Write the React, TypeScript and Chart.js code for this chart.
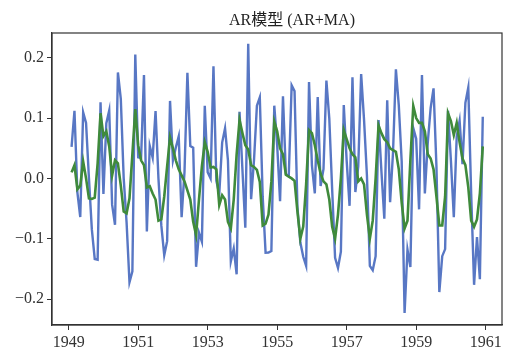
import { useEffect, useRef } from "react";
import { Chart, registerables } from "chart.js";

Chart.register(...registerables);

const TITLE = "AR模型 (AR+MA)";

// Monthly series, first value is February 1949, last is December 1960.
const START_YEAR = 1949;
const START_MONTH = 1; // 0 = January

// First difference of log passenger counts.
const LOG_DIFF = [
  0.0522, 0.1121, -0.023, -0.064, 0.1095, 0.0919, 0.0, -0.0846, -0.1335, -0.1347, 0.1263,
  -0.0258, 0.0914, 0.1125, -0.0435, -0.077, 0.1756, 0.1319, 0.0, -0.0732, -0.1722, -0.1542, 0.2054,
  0.0351, 0.0339, 0.1712, -0.088, 0.0537, 0.0343, 0.1115, 0.0, -0.0784, -0.1273, -0.104, 0.1284,
  0.0297, 0.0513, 0.0697, -0.0642, 0.011, 0.175, 0.0536, 0.0509, -0.1466, -0.0901, -0.1048, 0.1204,
  0.0103, 0.0, 0.1857, -0.0042, -0.0259, 0.0593, 0.0829, 0.0299, -0.1377, -0.1162, -0.1589, 0.1103,
  0.0148, -0.0817, 0.2231, -0.0346, 0.0304, 0.1206, 0.1345, -0.0303, -0.1233, -0.1231, -0.1205, 0.1205,
  0.0552, -0.0379, 0.1362, 0.0075, 0.0037, 0.1542, 0.1446, -0.0478, -0.1063, -0.1299, -0.1451, 0.1596,
  0.0214, -0.025, 0.1349, -0.0127, 0.0158, 0.1622, 0.0992, -0.0196, -0.1318, -0.1485, -0.1215, 0.1215,
  0.029, -0.0455, 0.1678, -0.0227, 0.0199, 0.1729, 0.097, 0.0043, -0.1449, -0.1521, -0.129, 0.0968,
  0.0118, -0.0669, 0.1296, -0.0394, 0.0422, 0.1809, 0.1211, 0.0281, -0.2231, -0.1181, -0.1468, 0.0835,
  0.066, -0.0513, 0.1715, -0.0249, 0.0588, 0.1167, 0.1493, 0.0199, -0.1884, -0.1289, -0.1172, 0.1122,
  0.0292, -0.0644, 0.0692, 0.0955, 0.0236, 0.1253, 0.1507, -0.0261, -0.1764, -0.0971, -0.1672, 0.1023,
];

// Fitted values of the AR+MA model.
const FITTED = [
  0.01, 0.022, -0.018, -0.012, 0.028, 0.0, -0.033, -0.034, -0.032, 0.025, 0.108,
  0.07, 0.078, 0.053, 0.005, 0.03, 0.025, -0.012, -0.055, -0.058, -0.033, 0.04, 0.115,
  0.055, 0.03, 0.022, -0.015, -0.013, -0.025, -0.035, -0.07, -0.068, -0.03, 0.02, 0.068,
  0.05, 0.03, 0.015, 0.005, -0.005, -0.02, -0.035, -0.072, -0.094, -0.035, 0.02, 0.06,
  0.044, 0.018, 0.019, 0.015, -0.044, -0.028, -0.035, -0.072, -0.083, -0.035, 0.04, 0.097,
  0.075, 0.055, 0.048, 0.022, 0.019, 0.014, -0.006, -0.078, -0.075, -0.06, -0.005, 0.094,
  0.078, 0.05, 0.04, 0.006, 0.003, 0.0, -0.004, -0.055, -0.1, -0.08, -0.01, 0.08,
  0.075, 0.055, 0.03, 0.008, -0.005, -0.01, -0.035, -0.08, -0.1, -0.06, 0.0, 0.08,
  0.065, 0.05, 0.04, 0.035, -0.005, 0.0, -0.01, -0.06, -0.1, -0.07, 0.0, 0.088,
  0.075, 0.065, 0.06, 0.05, 0.047, 0.044, 0.015, -0.04, -0.083, -0.07, 0.03, 0.12,
  0.1, 0.092, 0.092, 0.078, 0.04, 0.033, 0.015, -0.03, -0.078, -0.078, -0.03, 0.108,
  0.095, 0.072, 0.092, 0.06, 0.033, 0.022, -0.015, -0.07, -0.08, -0.068, -0.025, 0.053,
];

const X_TICKS = [1949, 1951, 1953, 1955, 1957, 1959, 1961];
const Y_TICKS = [-0.2, -0.1, 0.0, 0.1, 0.2];
const X_MIN = 1948.52;
const X_MAX = 1961.47;
const Y_MIN = -0.243;
const Y_MAX = 0.241;

const BLUE = "#5877c4";
const GREEN = "#3f8a3b";
const INK = "#333333";
const FONT_FAMILY = '"Liberation Serif", "DejaVu Serif", serif';

function toPoints(values: number[]) {
  return values.map((v, k) => ({ x: START_YEAR + (START_MONTH + k) / 12, y: v }));
}

function formatY(v: number) {
  const s = Math.abs(v).toFixed(1);
  return v < -1e-9 ? "\u2212" + s : s;
}

// Closed box around the plot area plus the title above it.
const framePlugin = {
  id: "frameAndTitle",
  afterDatasetsDraw(chart: any) {
    const { ctx, chartArea: a } = chart;
    ctx.save();
    ctx.strokeStyle = INK;
    ctx.lineWidth = 1.2;
    ctx.strokeRect(a.left, a.top, a.right - a.left, a.bottom - a.top);
    ctx.fillStyle = "#222";
    ctx.font = `16px ${FONT_FAMILY}, "Noto Sans CJK SC"`;
    ctx.textAlign = "center";
    ctx.textBaseline = "middle";
    ctx.fillText(TITLE, (a.left + a.right) / 2 + 15, a.top - 12);
    ctx.restore();
  },
};

export default function App() {
  const canvasRef = useRef<HTMLCanvasElement | null>(null);

  useEffect(() => {
    const canvas = canvasRef.current;
    if (!canvas) return;
    const tickFont = { family: FONT_FAMILY, size: 16 };
    const chart = new Chart(canvas, {
      type: "line",
      data: {
        datasets: [
          {
            label: "fitted",
            data: toPoints(FITTED),
            borderColor: GREEN,
            borderWidth: 2.6,
            pointRadius: 0,
            tension: 0,
            fill: false,
          },
          {
            label: "log diff",
            data: toPoints(LOG_DIFF),
            borderColor: BLUE,
            borderWidth: 2.4,
            pointRadius: 0,
            tension: 0,
            fill: false,
          },
        ],
      },
      options: {
        animation: false,
        responsive: false,
        maintainAspectRatio: false,
        layout: { padding: { top: 33, right: 7, left: 0, bottom: 0 } },
        plugins: {
          legend: { display: false },
          title: { display: false },
          tooltip: { enabled: false },
        },
        scales: {
          x: {
            type: "linear",
            min: X_MIN,
            max: X_MAX,
            afterBuildTicks: (s: any) => {
              s.ticks = X_TICKS.map((v) => ({ value: v }));
            },
            afterFit: (s: any) => {
              s.height = 26;
            },
            ticks: {
              callback: (v: any) => String(v),
              color: INK,
              font: tickFont,
              padding: 3,
              maxRotation: 0,
              autoSkip: false,
            },
            grid: {
              drawOnChartArea: false,
              drawTicks: true,
              tickLength: 5,
              tickColor: INK,
              color: INK,
            },
            border: { display: true, color: INK, width: 1.2 },
          },
          y: {
            type: "linear",
            min: Y_MIN,
            max: Y_MAX,
            afterBuildTicks: (s: any) => {
              s.ticks = Y_TICKS.map((v) => ({ value: v }));
            },
            afterFit: (s: any) => {
              s.width = 52;
            },
            ticks: {
              callback: (v: any) => formatY(Number(v)),
              color: INK,
              font: tickFont,
              padding: 3,
              autoSkip: false,
            },
            grid: {
              drawOnChartArea: false,
              drawTicks: true,
              tickLength: 5,
              tickColor: INK,
              color: INK,
            },
            border: { display: true, color: INK, width: 1.2 },
          },
        },
      },
      plugins: [framePlugin],
    });
    return () => chart.destroy();
  }, []);

  return (
    <div style={{ position: "absolute", left: 0, top: 0, width: 509, height: 351, background: "#fff" }}>
      <canvas ref={canvasRef} width={509} height={351} style={{ display: "block" }} />
    </div>
  );
}
